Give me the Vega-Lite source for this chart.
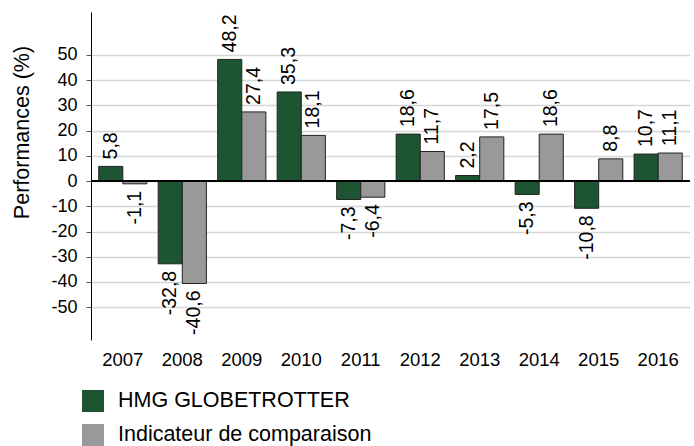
{
  "$schema": "https://vega.github.io/schema/vega-lite/v6.json",
  "width": 599,
  "height": 328,
  "autosize": {"type": "none"},
  "padding": {"left": 91, "top": 12, "right": 4, "bottom": 106},
  "background": "white",
  "config": {
    "font": "Liberation Sans",
    "view": {"stroke": null},
    "locale": {"number": {"decimal": ",", "thousands": ".", "grouping": [3], "currency": ["", " €"], "minus": "-"}},
    "axis": {"labelFont": "Liberation Sans", "titleFont": "Liberation Sans", "labelColor": "#000", "titleColor": "#000"}
  },
  "data": {
    "values": [
      {"year": "2007", "series": "HMG GLOBETROTTER", "value": 5.8},
      {"year": "2008", "series": "HMG GLOBETROTTER", "value": -32.8},
      {"year": "2009", "series": "HMG GLOBETROTTER", "value": 48.2},
      {"year": "2010", "series": "HMG GLOBETROTTER", "value": 35.3},
      {"year": "2011", "series": "HMG GLOBETROTTER", "value": -7.3},
      {"year": "2012", "series": "HMG GLOBETROTTER", "value": 18.6},
      {"year": "2013", "series": "HMG GLOBETROTTER", "value": 2.2},
      {"year": "2014", "series": "HMG GLOBETROTTER", "value": -5.3},
      {"year": "2015", "series": "HMG GLOBETROTTER", "value": -10.8},
      {"year": "2016", "series": "HMG GLOBETROTTER", "value": 10.7},
      {"year": "2007", "series": "Indicateur de comparaison", "value": -1.1},
      {"year": "2008", "series": "Indicateur de comparaison", "value": -40.6},
      {"year": "2009", "series": "Indicateur de comparaison", "value": 27.4},
      {"year": "2010", "series": "Indicateur de comparaison", "value": 18.1},
      {"year": "2011", "series": "Indicateur de comparaison", "value": -6.4},
      {"year": "2012", "series": "Indicateur de comparaison", "value": 11.7},
      {"year": "2013", "series": "Indicateur de comparaison", "value": 17.5},
      {"year": "2014", "series": "Indicateur de comparaison", "value": 18.6},
      {"year": "2015", "series": "Indicateur de comparaison", "value": 8.8},
      {"year": "2016", "series": "Indicateur de comparaison", "value": 11.1}
    ]
  },
  "encoding": {
    "x": {
      "field": "year", "type": "nominal",
      "scale": {"paddingInner": 0.19, "paddingOuter": 0.13},
      "axis": {"title": null, "labelAngle": 0, "ticks": false, "domain": false, "labelFontSize": 18.5, "labelPadding": 10}
    },
    "xOffset": {"field": "series", "type": "nominal", "scale": {"domain": ["HMG GLOBETROTTER", "Indicateur de comparaison"], "paddingInner": 0, "paddingOuter": 0}},
    "y": {
      "field": "value", "type": "quantitative",
      "scale": {"domain": [-63, 67], "nice": false, "zero": false},
      "axis": {
        "title": "Performances (%)", "titleFontSize": 21.5, "titleFontWeight": "normal",
        "titleX": -69, "titleY": 120, "titleAngle": -90, "titleAlign": "center", "titleBaseline": "middle",
        "values": [-50, -40, -30, -20, -10, 0, 10, 20, 30, 40, 50],
        "labelFontSize": 18, "ticks": true, "tickSize": 5, "tickColor": "#555", "tickWidth": 1, "labelPadding": 9,
        "domain": true, "domainColor": "#000", "domainWidth": 1,
        "grid": true, "gridColor": "#d6d6d6", "gridWidth": 1.5
      }
    }
  },
  "layer": [
    {
      "mark": {"type": "bar", "stroke": "#222", "strokeWidth": 1},
      "encoding": {
        "color": {
          "field": "series", "type": "nominal",
          "scale": {"domain": ["HMG GLOBETROTTER", "Indicateur de comparaison"], "range": ["#1d5431", "#999999"]},
          "legend": {
            "title": null, "orient": "none", "legendX": -9, "legendY": 378, "direction": "vertical",
            "symbolType": "square", "symbolSize": 484, "symbolStrokeWidth": 0,
            "labelFontSize": 21.5, "labelFont": "Liberation Sans", "labelColor": "#000", "labelOffset": 14, "rowPadding": 12, "labelLimit": 500
          }
        }
      }
    },
    {
      "mark": {"type": "rule", "color": "#000", "strokeWidth": 1},
      "encoding": {"y": {"datum": 0}, "x": null, "xOffset": null}
    },
    {
      "transform": [{"filter": "datum.value >= 0"}],
      "mark": {"type": "text", "angle": -90, "align": "left", "baseline": "middle", "dx": 7, "fontSize": 19.5, "color": "#000"},
      "encoding": {"text": {"field": "value", "type": "quantitative", "format": ".1f"}}
    },
    {
      "transform": [{"filter": "datum.value < 0"}],
      "mark": {"type": "text", "angle": -90, "align": "right", "baseline": "middle", "dx": -7, "fontSize": 19.5, "color": "#000"},
      "encoding": {"text": {"field": "value", "type": "quantitative", "format": ".1f"}}
    }
  ]
}
